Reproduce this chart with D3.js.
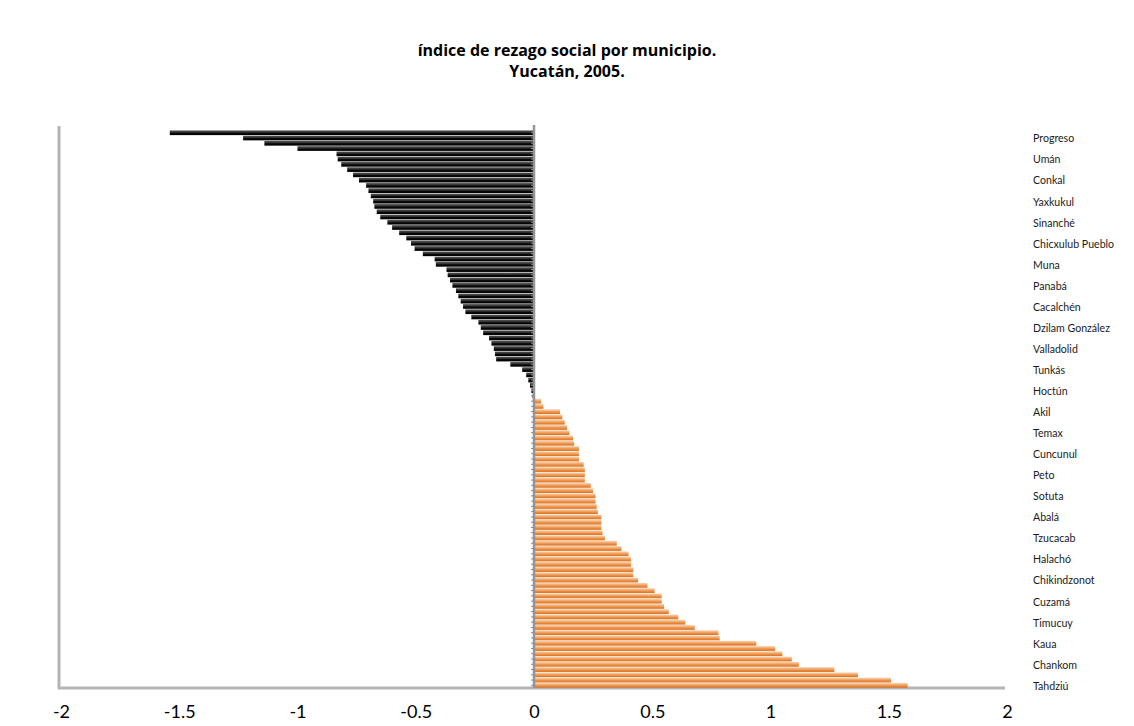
<!DOCTYPE html>
<html>
<head>
<meta charset="utf-8">
<script src="https://cdn.jsdelivr.net/npm/d3@7"></script>
<style>
  html, body { margin: 0; padding: 0; background: #fff; }
  svg { display: block; }
</style>
</head>
<body>
<script>
// ---- data ----
const titleLines = ["índice de rezago social por municipio.", "Yucatán, 2005."];

// municipality names shown on the right (every 4th bar, starting at bar 1)
const labelNames = ["Progreso", "Umán", "Conkal", "Yaxkukul", "Sinanché", "Chicxulub Pueblo",
  "Muna", "Panabá", "Cacalchén", "Dzilam González", "Valladolid", "Tunkás", "Hoctún",
  "Akil", "Temax", "Cuncunul", "Peto", "Sotuta", "Abalá", "Tzucacab", "Halachó",
  "Chikindzonot", "Cuzamá", "Timucuy", "Kaua", "Chankom", "Tahdziú"];
const labelStart = 1;
const labelStep = 4;

// índice de rezago social, 106 municipios (sorted)
const values = [
  -1.54, -1.23, -1.14, -1.00, -0.835, -0.83, -0.815, -0.79, -0.765, -0.74,
  -0.71, -0.70, -0.69, -0.68, -0.675, -0.665, -0.65, -0.62, -0.60, -0.57,
  -0.54, -0.52, -0.505, -0.47, -0.42, -0.415, -0.37, -0.365, -0.355, -0.345,
  -0.33, -0.32, -0.31, -0.30, -0.29, -0.265, -0.235, -0.225, -0.215, -0.19,
  -0.18, -0.17, -0.165, -0.16, -0.10, -0.05, -0.033, -0.024, -0.017, -0.011,
  -0.006,
  0.03, 0.04, 0.11, 0.12, 0.13, 0.14, 0.15, 0.165, 0.17, 0.19,
  0.19, 0.19, 0.21, 0.215, 0.215, 0.215, 0.24, 0.25, 0.26, 0.26,
  0.265, 0.27, 0.285, 0.285, 0.285, 0.29, 0.30, 0.35, 0.37, 0.40,
  0.41, 0.41, 0.42, 0.42, 0.44, 0.48, 0.51, 0.54, 0.54, 0.55,
  0.57, 0.61, 0.64, 0.68, 0.78, 0.785, 0.94, 1.02, 1.05, 1.09,
  1.12, 1.27, 1.37, 1.51, 1.58
];

const xTicks = [-2, -1.5, -1, -0.5, 0, 0.5, 1, 1.5, 2];

// ---- chart ----
const W = 1134, H = 726;
const svg = d3.select("body").append("svg").attr("width", W).attr("height", H);

const defs = svg.append("defs");
const gNeg = defs.append("linearGradient").attr("id", "gNeg")
  .attr("x1", 0).attr("y1", 0).attr("x2", 0).attr("y2", 1);
[[0, "#9a9a9a"], [0.15, "#4a4a4a"], [0.45, "#2e2e2e"], [0.6, "#080808"], [1, "#000"]]
  .forEach(([o, c]) => gNeg.append("stop").attr("offset", o).attr("stop-color", c));
const gPos = defs.append("linearGradient").attr("id", "gPos")
  .attr("x1", 0).attr("y1", 0).attr("x2", 0).attr("y2", 1);
[[0, "#f9d9bd"], [0.3, "#f4b47e"], [0.6, "#ec9248"], [1, "#d96f20"]]
  .forEach(([o, c]) => gPos.append("stop").attr("offset", o).attr("stop-color", c));

const x = d3.scaleLinear().domain([-2, 2]).range([61, 1007]);
const y = d3.scaleBand().domain(d3.range(values.length)).range([130, 688])
  .paddingInner(0.08).paddingOuter(0.05);

// title
svg.append("g").selectAll("text").data(titleLines).join("text")
  .attr("x", 567).attr("y", (d, i) => 56 + i * 21)
  .attr("text-anchor", "middle")
  .style("font-family", "'Open Sans', Lato, sans-serif")
  .style("font-weight", "bold").style("font-size", "16px")
  .attr("fill", "#000")
  .text(d => d);

// plot frame (left + bottom)
svg.append("line").attr("x1", x(-2) - 2).attr("x2", x(-2) - 2)
  .attr("y1", 126).attr("y2", 689)
  .attr("stroke", "#b4b4b4").attr("stroke-width", 3);
svg.append("line").attr("x1", x(-2) - 3).attr("x2", x(2) - 2)
  .attr("y1", 688).attr("y2", 688)
  .attr("stroke", "#b4b4b4").attr("stroke-width", 3);

// bars
svg.append("g").selectAll("rect").data(values).join("rect")
  .attr("x", d => x(Math.min(0, d)))
  .attr("width", d => Math.abs(x(d) - x(0)))
  .attr("y", (d, i) => y(i))
  .attr("height", y.bandwidth())
  .attr("fill", d => d < 0 ? "url(#gNeg)" : "url(#gPos)");

// zero (category) axis
const zeroAxis = svg.append("g").attr("transform", `translate(${x(0)},0)`)
  .call(d3.axisLeft(y).tickSize(3).tickFormat(""));
zeroAxis.select(".domain").attr("stroke", "#959595").attr("stroke-width", 2.5)
  .attr("d", `M0,125V688`);
zeroAxis.selectAll(".tick line").attr("stroke", "#8a8a8a").attr("stroke-width", 1);

// right-hand municipality labels
const labelIdx = labelNames.map((n, k) => labelStart + k * labelStep);
const nameOf = new Map(labelIdx.map((idx, k) => [idx, labelNames[k]]));
const rightAxis = svg.append("g").attr("transform", "translate(1029,1)")
  .call(d3.axisRight(y).tickValues(labelIdx).tickSize(0).tickPadding(4)
    .tickFormat(i => nameOf.get(i)));
rightAxis.select(".domain").remove();
rightAxis.selectAll("text")
  .style("font-family", "Lato, 'Open Sans', sans-serif")
  .style("font-size", "10.6px").attr("fill", "#1a1a1a");

// x axis labels
const xAxis = svg.append("g").attr("transform", "translate(0,700)")
  .call(d3.axisBottom(x).tickValues(xTicks).tickSize(0).tickPadding(5)
    .tickFormat(d => String(d)));
xAxis.select(".domain").remove();
xAxis.selectAll("text")
  .style("font-family", "Lato, 'Open Sans', sans-serif")
  .style("font-size", "18px").attr("fill", "#000");
</script>
</body>
</html>
